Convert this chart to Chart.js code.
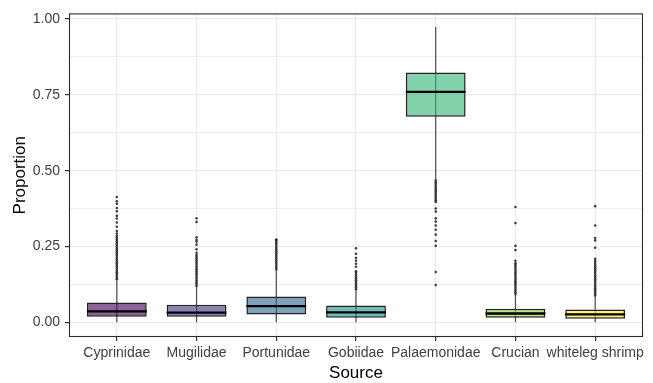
<!DOCTYPE html>
<html>
<head>
<meta charset="utf-8">
<script src="https://cdn.jsdelivr.net/npm/chart.js@4"></script>
<style>
  html, body { margin: 0; padding: 0; background: #fff; }
  #wrap { width: 653px; height: 383px; }
</style>
</head>
<body>
<div id="wrap"><canvas id="chart-proportion"></canvas></div>
<script>
const categories = ['Cyprinidae', 'Mugilidae', 'Portunidae', 'Gobiidae', 'Palaemonidae', 'Crucian', 'whiteleg shrimp'];
const whiskerLow  = [0.000, 0.000, 0.000, 0.000, 0.472, 0.000, 0.000];
const q1          = [0.018, 0.018, 0.026, 0.015, 0.678, 0.015, 0.012];
const median      = [0.036, 0.032, 0.053, 0.033, 0.760, 0.029, 0.026];
const q3          = [0.065, 0.058, 0.085, 0.055, 0.824, 0.045, 0.042];
const whiskerHigh = [0.139, 0.117, 0.171, 0.106, 0.974, 0.090, 0.085];
const outliers = [
    [0.142, 0.147, 0.153, 0.159, 0.165, 0.171, 0.177, 0.183, 0.189, 0.195, 0.201, 0.207, 0.213, 0.219, 0.225,
     0.231, 0.237, 0.243, 0.249, 0.255, 0.261, 0.267, 0.273, 0.279, 0.285, 0.293, 0.301, 0.315, 0.329, 0.342,
     0.351, 0.366, 0.377, 0.391, 0.399, 0.413],
    [0.120, 0.126, 0.132, 0.138, 0.144, 0.150, 0.156, 0.162, 0.168, 0.174, 0.180, 0.186, 0.192, 0.198, 0.204,
     0.210, 0.216, 0.222, 0.229, 0.241, 0.256, 0.266, 0.272, 0.280, 0.331, 0.343],
    [0.174, 0.180, 0.186, 0.192, 0.198, 0.204, 0.210, 0.216, 0.222, 0.228, 0.234, 0.240, 0.246, 0.252, 0.258,
     0.264, 0.270, 0.273],
    [0.109, 0.115, 0.121, 0.127, 0.133, 0.139, 0.145, 0.151, 0.157, 0.163, 0.168, 0.183, 0.193, 0.203, 0.212,
     0.226, 0.244],
    [0.468, 0.462, 0.456, 0.450, 0.444, 0.438, 0.432, 0.426, 0.420, 0.414, 0.408, 0.402, 0.397, 0.375, 0.365,
     0.343, 0.332, 0.319, 0.305, 0.289, 0.268, 0.252, 0.166, 0.123],
    [0.093, 0.099, 0.105, 0.111, 0.117, 0.123, 0.129, 0.135, 0.141, 0.147, 0.153, 0.159, 0.165, 0.171, 0.177,
     0.183, 0.189, 0.195, 0.203, 0.238, 0.252, 0.327, 0.380],
    [0.088, 0.094, 0.100, 0.106, 0.112, 0.118, 0.124, 0.130, 0.136, 0.142, 0.148, 0.154, 0.160, 0.166, 0.172,
     0.178, 0.184, 0.190, 0.196, 0.202, 0.209, 0.246, 0.270, 0.278, 0.319, 0.383]
];
const yTicks = [0, 0.125, 0.25, 0.375, 0.5, 0.625, 0.75, 0.875, 1];
const boxColors = ['rgba(68,1,84,0.62)', 'rgba(68,58,131,0.62)', 'rgba(49,104,142,0.62)', 'rgba(33,144,140,0.62)',
                   'rgba(53,183,121,0.62)', 'rgba(143,215,68,0.62)', 'rgba(253,231,37,0.62)'];

const halfBox = 0.375;
const fontFamily = "'Liberation Sans', Arial, sans-serif";

// build the datasets the library needs from the arrays above
const boxData = categories.map((c, i) => ({x: i + 1, y: [q1[i], q3[i]]}));
let whiskerData = [];
let medianData = [];
let outlierData = [];
categories.forEach((c, i) => {
    whiskerData.push({x: i + 1, y: whiskerLow[i]}, {x: i + 1, y: whiskerHigh[i]}, {x: i + 1, y: null});
    medianData.push({x: i + 1 - halfBox, y: median[i]}, {x: i + 1 + halfBox, y: median[i]}, {x: i + 1.5, y: null});
    outliers[i].forEach(v => outlierData.push({x: i + 1, y: v}));
});

const isMajor = v => Math.abs(v * 4 - Math.round(v * 4)) < 1e-6;

// panel border like theme_bw
const panelBorder = {
    id: 'panelBorder',
    afterDraw(chart) {
        const {ctx, chartArea} = chart;
        ctx.save();
        ctx.strokeStyle = '#2b2b2b';
        ctx.lineWidth = 1.1;
        ctx.strokeRect(chartArea.left + 0.5, chartArea.top + 0.5,
                       chartArea.right - chartArea.left - 1, chartArea.bottom - chartArea.top - 1);
        ctx.restore();
    }
};

new Chart(document.getElementById('chart-proportion'), {
    type: 'bar',
    data: {
        datasets: [
            {
                type: 'scatter',
                data: outlierData,
                pointRadius: 1.3,
                pointBackgroundColor: 'rgba(20,20,20,0.8)',
                pointBorderWidth: 0,
                order: 0
            },
            {
                type: 'line',
                data: medianData,
                borderColor: '#000000',
                borderWidth: 2.3,
                pointRadius: 0,
                spanGaps: false,
                order: 1
            },
            {
                type: 'bar',
                data: boxData,
                backgroundColor: boxColors,
                borderColor: '#222222',
                borderWidth: 1.5,
                borderSkipped: false,
                categoryPercentage: 1,
                barPercentage: 0.75,
                order: 2
            },
            {
                type: 'line',
                data: whiskerData,
                borderColor: '#4a4a4a',
                borderWidth: 1.2,
                pointRadius: 0,
                spanGaps: false,
                order: 3
            }
        ]
    },
    options: {
        responsive: true,
        maintainAspectRatio: false,
        animation: false,
        layout: { padding: {top: 7, right: 10, left: 0, bottom: 0} },
        plugins: { legend: {display: false}, tooltip: {enabled: false} },
        scales: {
            x: {
                type: 'linear',
                min: 0.4,
                max: 7.6,
                offset: false,
                afterBuildTicks: scale => { scale.ticks = categories.map((c, i) => ({value: i + 1})); },
                afterFit: scale => { scale.height = 46; },
                grid: { color: '#EBEBEB', lineWidth: 1.2, tickColor: '#333333', tickLength: 4, offset: false },
                border: { display: false },
                ticks: {
                    autoSkip: false,
                    maxRotation: 0,
                    padding: 4,
                    color: '#404040',
                    font: {family: fontFamily, size: 14},
                    callback: v => categories[Math.round(v) - 1]
                },
                title: {
                    display: true,
                    text: 'Source',
                    color: '#000000',
                    font: {family: fontFamily, size: 17, lineHeight: 1.1},
                    padding: {top: 0, bottom: 0}
                }
            },
            y: {
                min: -0.0485,
                max: 1.0185,
                afterBuildTicks: scale => { scale.ticks = yTicks.map(v => ({value: v})); },
                afterFit: scale => { scale.width = 69; },
                grid: {
                    color: '#EBEBEB',
                    lineWidth: c => isMajor(c.tick.value) ? 1.2 : 0.9,
                    tickColor: c => isMajor(c.tick.value) ? '#333333' : 'rgba(0,0,0,0)',
                    tickLength: 4
                },
                border: { display: false },
                ticks: {
                    padding: 5,
                    color: '#404040',
                    font: {family: fontFamily, size: 14},
                    callback: v => isMajor(v) ? v.toFixed(2) : ''
                },
                title: {
                    display: true,
                    text: 'Proportion',
                    color: '#000000',
                    font: {family: fontFamily, size: 17},
                    padding: {top: 9.8, bottom: 0}
                }
            }
        }
    },
    plugins: [panelBorder]
});
</script>
</body>
</html>
